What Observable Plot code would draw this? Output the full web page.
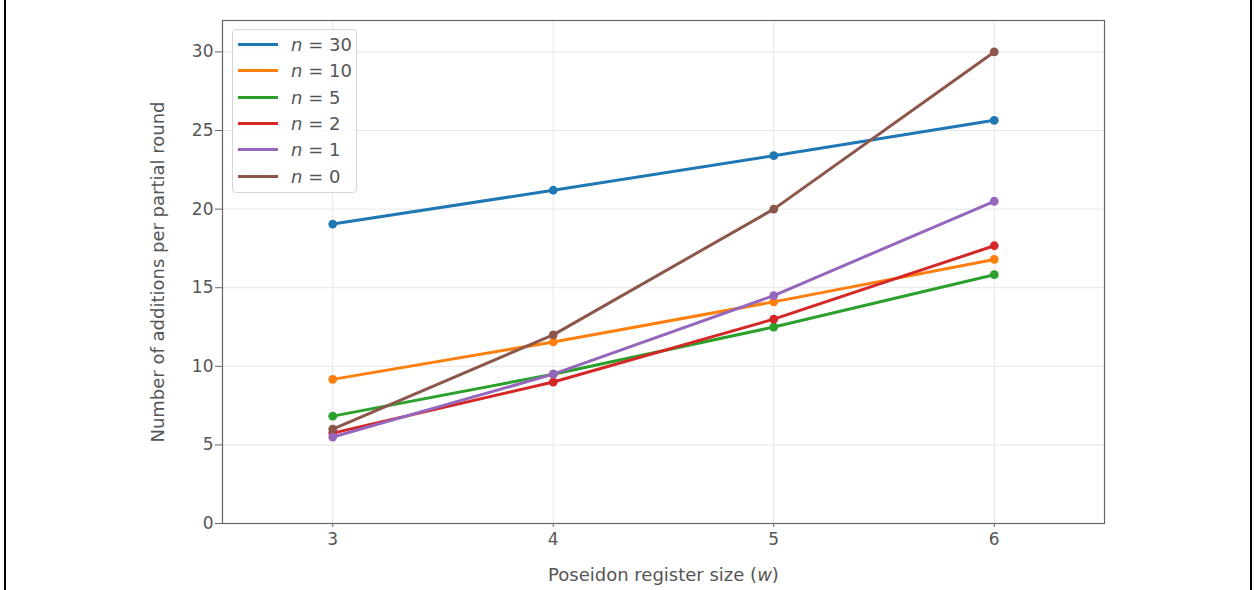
<!DOCTYPE html>
<html>
<head>
<meta charset="utf-8">
<script src="https://cdn.jsdelivr.net/npm/d3@7"></script>
<script src="https://cdn.jsdelivr.net/npm/@observablehq/plot@0.6"></script>
<style>
  html, body { margin: 0; padding: 0; background: #fff; }
  #wrap { position: relative; width: 1257px; height: 590px; font-family: "DejaVu Sans", sans-serif; }
  .edge { position: absolute; top: 0; width: 2px; height: 590px; background: #000; }
  #legend { position: absolute; left: 232px; top: 29px; width: 125px; height: 164px;
    border: 1px solid #d5d5d5; border-radius: 4px; background: rgba(255,255,255,0.8);
    box-sizing: border-box; padding-top: 1.5px; }
  .item { display: flex; align-items: center; height: 26.3px; font-size: 18px; color: #555; }
  .sw { width: 40px; height: 3px; margin-left: 5px; margin-right: 13px; }
</style>
</head>
<body>
<div id="wrap"></div>
<script>
const sizes = [3, 4, 5, 6];
const seriesNames = ["30", "10", "5", "2", "1", "0"];
const colors = ["#1f77b4", "#ff7f0e", "#2ca02c", "#d62728", "#9467bd", "#8c564b"];
const n30 = [19.05, 21.2, 23.4, 25.65];
const n10 = [9.17, 11.55, 14.1, 16.8];
const n5  = [6.83, 9.5, 12.5, 15.83];
const n2  = [5.75, 9, 13, 17.67];
const n1  = [5.5, 9.5, 14.5, 20.5];
const n0  = [6, 12, 20, 30];
const yTicks = [0, 5, 10, 15, 20, 25, 30];

const seriesValues = [n30, n10, n5, n2, n1, n0];
const rows = [];
seriesNames.forEach((s, i) => sizes.forEach((w, j) => rows.push({n: s, w, v: seriesValues[i][j]})));

const colorScale = {domain: seriesNames, range: colors};

const chart = Plot.plot({
  width: 1257,
  height: 590,
  marginLeft: 222,
  marginRight: 153,
  marginTop: 20,
  marginBottom: 67,
  style: {fontFamily: "DejaVu Sans, sans-serif", fontSize: "17px", color: "#555", background: "transparent"},
  x: {domain: [2.5, 6.5]},
  y: {domain: [0, 32]},
  color: colorScale,
  marks: [
    Plot.gridX(sizes, {stroke: "#e6e6e6", strokeOpacity: 1, strokeWidth: 1}),
    Plot.gridY(yTicks, {stroke: "#e6e6e6", strokeOpacity: 1, strokeWidth: 1}),
    Plot.frame({stroke: "#666", strokeWidth: 1.2}),
    Plot.axisX(sizes, {tickSize: 4, tickPadding: 5, stroke: "#666", fill: "#555", fontSize: 17, label: null, tickFormat: d => String(d)}),
    Plot.axisX({label: "Poseidon register size (w)", ticks: [], tickSize: 0, fontSize: 18, fill: "#555", labelAnchor: "center", labelArrow: "none", labelOffset: 57}),
    Plot.axisY(yTicks, {tickSize: 7, tickPadding: 2, stroke: "#666", fill: "#555", fontSize: 17, label: null}),
    Plot.axisY({label: "Number of additions per partial round", ticks: [], tickSize: 0, fontSize: 18, fill: "#555", labelAnchor: "center", labelArrow: "none", labelOffset: 71}),
    ...seriesNames.flatMap((s) => [
      Plot.line(rows.filter(r => r.n === s), {x: "w", y: "v", stroke: "n", strokeWidth: 3, strokeLinecap: "round"}),
      Plot.dot(rows.filter(r => r.n === s), {x: "w", y: "v", fill: "n", r: 4.4, stroke: "none"})
    ])
  ]
});

const wrap = document.getElementById("wrap");
wrap.appendChild(chart);

// italicize "w" in the x label
chart.querySelectorAll("text").forEach(t => {
  if (t.textContent === "Poseidon register size (w)") {
    t.textContent = "";
    const ns = "http://www.w3.org/2000/svg";
    const a = document.createElementNS(ns, "tspan"); a.textContent = "Poseidon register size (";
    const b = document.createElementNS(ns, "tspan"); b.textContent = "w"; b.setAttribute("font-style", "italic");
    const c = document.createElementNS(ns, "tspan"); c.textContent = ")";
    t.append(a, b, c);
  }
});

// legend
const lg = document.createElement("div");
lg.id = "legend";
seriesNames.forEach((s, i) => {
  const it = document.createElement("div");
  it.className = "item";
  it.innerHTML = `<span class="sw" style="background:${colors[i]}"></span><span><i>n</i> = ${s}</span>`;
  lg.appendChild(it);
});
wrap.appendChild(lg);

const e1 = document.createElement("div"); e1.className = "edge"; e1.style.left = "4px"; wrap.appendChild(e1);
const e2 = document.createElement("div"); e2.className = "edge"; e2.style.left = "1250px"; wrap.appendChild(e2);
</script>
</body>
</html>
